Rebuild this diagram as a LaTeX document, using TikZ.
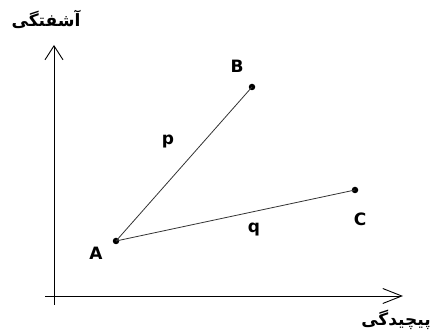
\documentclass[tikz,border=0pt]{standalone}
\usepackage{fontspec}
\setmainfont{DejaVu Sans}
\newfontfamily\arabicfont[Script=Arabic]{DejaVu Sans}
\TeXXeTstate=1
\usetikzlibrary{arrows.meta}
\begin{document}
\begin{tikzpicture}[x=1pt,y=-1pt,
  axisline/.style={line width=0.9pt,black},
  edgeline/.style={line width=0.8pt,black!80},
  dotnode/.style={circle,fill=black,inner sep=0pt,minimum size=6.5pt},
  lbl/.style={font=\bfseries\fontsize{17}{20}\selectfont,inner sep=0pt},
  fa/.style={font=\arabicfont\bfseries\fontsize{17}{20}\selectfont,inner sep=0pt}]
\useasboundingbox (0,0) rectangle (432,331);
\coordinate (ybot) at (54,305);
\coordinate (ytop) at (54,45);
\coordinate (xl) at (45,296);
\coordinate (xr) at (403,296);
\draw[axisline,-{Straight Barb[length=14pt,width=18pt,line width=0.9pt]}] (ybot) -- (ytop);
\draw[axisline,-{Straight Barb[length=19pt,width=15pt,line width=0.9pt]}] (xl) -- (xr);
\node[dotnode] (A) at (116,241) {};
\node[dotnode] (B) at (252,87) {};
\node[dotnode] (C) at (355,190) {};
\draw[edgeline] (A.center) -- (B.center);
\draw[edgeline] (A.center) -- (C.center);
\node[lbl] (lA) at (96,253) {A};
\node[lbl] (lB) at (237,66) {B};
\node[lbl] (lC) at (360,219) {C};
\node[lbl] (lp) at (168,142) {p};
\node[lbl] (lq) at (254,230) {q};
\node[fa] (ty) at (46,19) {\beginR آشفتگی\endR};
\node[fa] (tx) at (396,320) {\beginR پیچیدگی\endR};
\end{tikzpicture}
\end{document}
